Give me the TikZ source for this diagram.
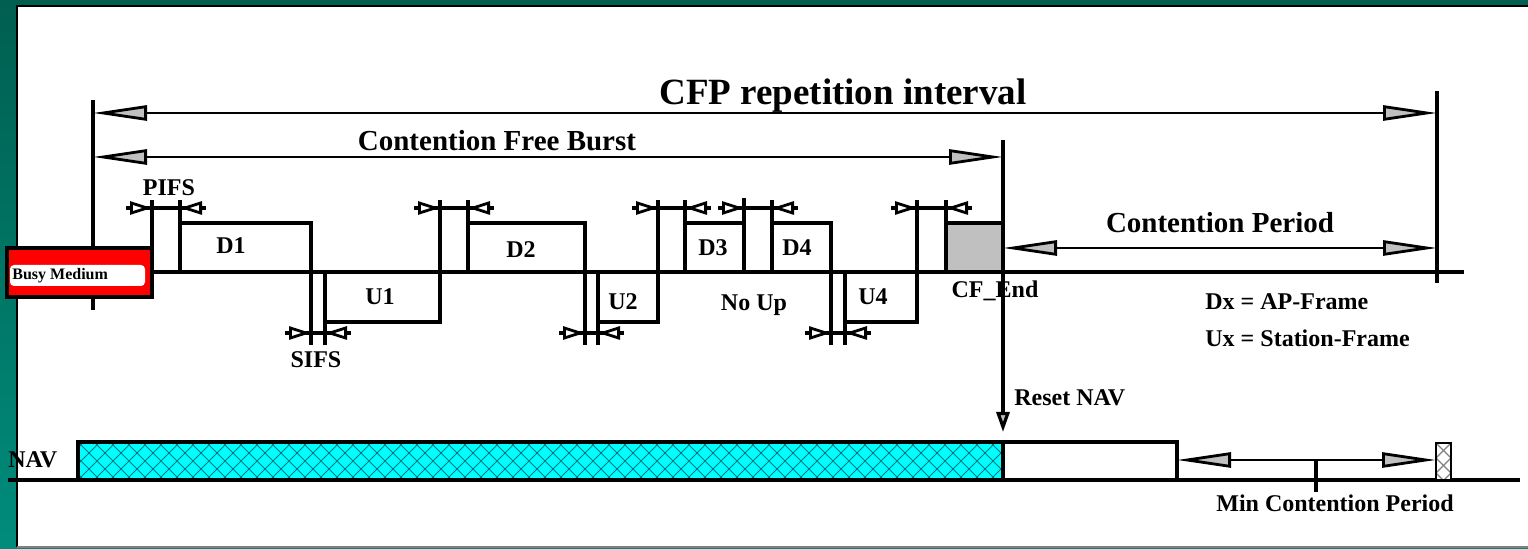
\documentclass[tikz,border=0pt]{standalone}
\usepackage{fontspec}
\setmainfont{Liberation Serif}
\usetikzlibrary{arrows.meta}
\definecolor{tealA}{HTML}{005F50}
\definecolor{tealB}{HTML}{008C7C}
\definecolor{silverf}{HTML}{C0C0C0}
\definecolor{hatchc}{HTML}{007A80}
\definecolor{busyred}{HTML}{FF0000}
\definecolor{navcyan}{HTML}{00FFFF}
\tikzset{
  ln/.style={line width=1.6pt},
  al/.style={line width=1.4pt},
  lbl/.style={font=\bfseries\fontsize{12}{14}\selectfont, inner sep=0pt, anchor=base},
  midlbl/.style={font=\bfseries\fontsize{14.5}{17}\selectfont, inner sep=0pt, anchor=base},
  ttllbl/.style={font=\bfseries\fontsize{18.5}{22}\selectfont, inner sep=0pt, anchor=base},
  bigtip/.tip={Triangle[length=27pt,width=7.5pt,fill=silverf]},
  smalltip/.tip={Triangle[length=11pt,width=6.5pt,fill=white]},
  resettip/.tip={Triangle[length=10pt,width=6.5pt,fill=silverf]},
  framebox/.style={ln, fill=white},
}
\newcommand\gapmark[3]{%
  \draw[ln] (#1-26,#3) -- (#2+26,#3);
  \draw[al,-smalltip] (#1-26,#3) -- (#1,#3);
  \draw[al,-smalltip] (#2+26,#3) -- (#2,#3);
}
\begin{document}
\begin{tikzpicture}[x=0.5pt,y=-0.5pt]
\useasboundingbox (0,0) rectangle (1528,549);
% frame
\fill[top color=tealA,bottom color=tealB] (0,0) rectangle (1528,549);
\fill[white] (17,6) rectangle (1528,547);
\draw[line width=1.4pt] (17,547) -- (17,6) -- (1528,6);
\draw[gray,line width=1pt] (17,547) -- (1528,547);

% coordinates
\coordinate (Lt) at (93,100);  \coordinate (Lb) at (93,310);
\coordinate (Rt) at (1437,91); \coordinate (Rb) at (1437,283);
\coordinate (Mt) at (1003,140); \coordinate (Mb) at (1003,432);

% vertical boundaries
\draw[ln] (Lt) -- (Lb);
\draw[ln] (Rt) -- (Rb);
\draw[ln,-resettip] (Mt) -- (Mb);

% span arrows
\coordinate (cfpL) at (93,113);  \coordinate (cfpR) at (1437,113);
\coordinate (cfbL) at (93,157);  \coordinate (cfbR) at (1003,157);
\coordinate (cpL) at (1003,248); \coordinate (cpR) at (1437,248);
\draw[al,bigtip-bigtip] (cfpL) -- (cfpR);
\draw[al,bigtip-bigtip] (cfbL) -- (cfbR);
\draw[al,bigtip-bigtip] (cpL) -- (cpR);
\node[ttllbl] (cfp) at (843,105) {CFP repetition interval};
\node[midlbl] (cfb) at (497,151) {Contention Free Burst};
\node[midlbl] (cp) at (1220,233) {Contention Period};

% timeline
\coordinate (tl0) at (152,272); \coordinate (tl1) at (1464,272);
\draw[ln] (tl0) -- (tl1);

% busy medium
\draw[ln,fill=busyred] (7,248) rectangle (152,297);
\fill[white,rounded corners=2pt] (10,265) rectangle (145,286);
\node[font=\bfseries\fontsize{8}{9}\selectfont,inner sep=0pt,anchor=base west] (busy) at (12,280) {Busy Medium};

% frames
\draw[framebox] (180,223) rectangle (311,272);
\draw[framebox] (325,272) rectangle (440,322);
\draw[framebox] (468,223) rectangle (585,272);
\draw[framebox] (598,272) rectangle (658,322);
\draw[framebox] (685,223) rectangle (744,272);
\draw[framebox] (772,223) rectangle (831,272);
\draw[framebox] (845,272) rectangle (917,322);
\draw[ln,fill=silverf] (946,223) rectangle (1003,272);

\node[lbl] (D1) at (231,254) {D1};
\node[lbl] (U1) at (380,305) {U1};
\node[lbl] (D2) at (521,258) {D2};
\node[lbl] (U2) at (623,310) {U2};
\node[lbl] (D3) at (713,256) {D3};
\node[lbl] (D4) at (797,256) {D4};
\node[lbl] (noup) at (754,311) {No Up};
\node[lbl] (U4) at (873,305) {U4};
\node[lbl] (cfend) at (995,298) {CF\_End};

% extension lines
\draw[ln] (152,248) -- (152,200);
\draw[ln] (180,223) -- (180,200);
\draw[ln] (311,272) -- (311,345);
\draw[ln] (325,322) -- (325,345);
\draw[ln] (440,272) -- (440,200);
\draw[ln] (468,223) -- (468,200);
\draw[ln] (585,272) -- (585,345);
\draw[ln] (598,322) -- (598,345);
\draw[ln] (658,272) -- (658,200);
\draw[ln] (685,223) -- (685,200);
\draw[ln] (744,223) -- (744,198);
\draw[ln] (772,223) -- (772,200);
\draw[ln] (831,272) -- (831,345);
\draw[ln] (845,322) -- (845,345);
\draw[ln] (917,272) -- (917,200);
\draw[ln] (946,223) -- (946,200);

% gap markers
\gapmark{152}{180}{208}
\gapmark{440}{468}{208}
\gapmark{658}{685}{208}
\gapmark{744}{772}{208}
\gapmark{917}{946}{208}
\gapmark{311}{325}{333}
\gapmark{585}{598}{333}
\gapmark{831}{845}{333}
\node[lbl] (pifs) at (169,196) {PIFS};
\node[lbl] (sifs) at (316,368) {SIFS};

% legend
\node[lbl,anchor=base west] (legD) at (1205,310) {Dx = AP-Frame};
\node[lbl,anchor=base west] (legU) at (1205,347) {Ux = Station-Frame};
\node[lbl,anchor=base west] (reset) at (1014,406) {Reset NAV};

% NAV line
\coordinate (nav0) at (8,480); \coordinate (nav1) at (1520,480);
\draw[ln] (nav0) -- (nav1);
\begin{scope}
  \clip (78,442) rectangle (1003,480);
  \fill[navcyan] (78,442) rectangle (1003,480);
  \foreach \i in {30,46,...,1010} {
    \draw[hatchc,line width=0.45pt] (\i,442) -- (\i+38,480);
    \draw[hatchc,line width=0.45pt] (\i,480) -- (\i+38,442);
  }
\end{scope}
\draw[ln] (78,442) rectangle (1003,480);
\draw[ln,fill=white] (1003,442) rectangle (1177,480);
\begin{scope}
  \clip (1436,443) rectangle (1451,480);
  \fill[white] (1436,443) rectangle (1451,480);
  \foreach \j in {428,443,...,480} {
    \draw[gray,line width=0.6pt] (1436,\j) -- (1451,\j+15);
    \draw[gray,line width=0.6pt] (1436,\j+15) -- (1451,\j);
  }
\end{scope}
\draw[al] (1436,443) rectangle (1451,480);
\node[lbl,anchor=base west] (navlbl) at (8,468) {NAV};

\coordinate (mcL) at (1177,460); \coordinate (mcR) at (1436,460);
\draw[al,bigtip-bigtip] (mcL) -- (mcR);
\draw[ln] (1316,460) -- (1316,492);
\node[lbl] (mcp) at (1335,512) {Min Contention Period};
\end{tikzpicture}
\end{document}
